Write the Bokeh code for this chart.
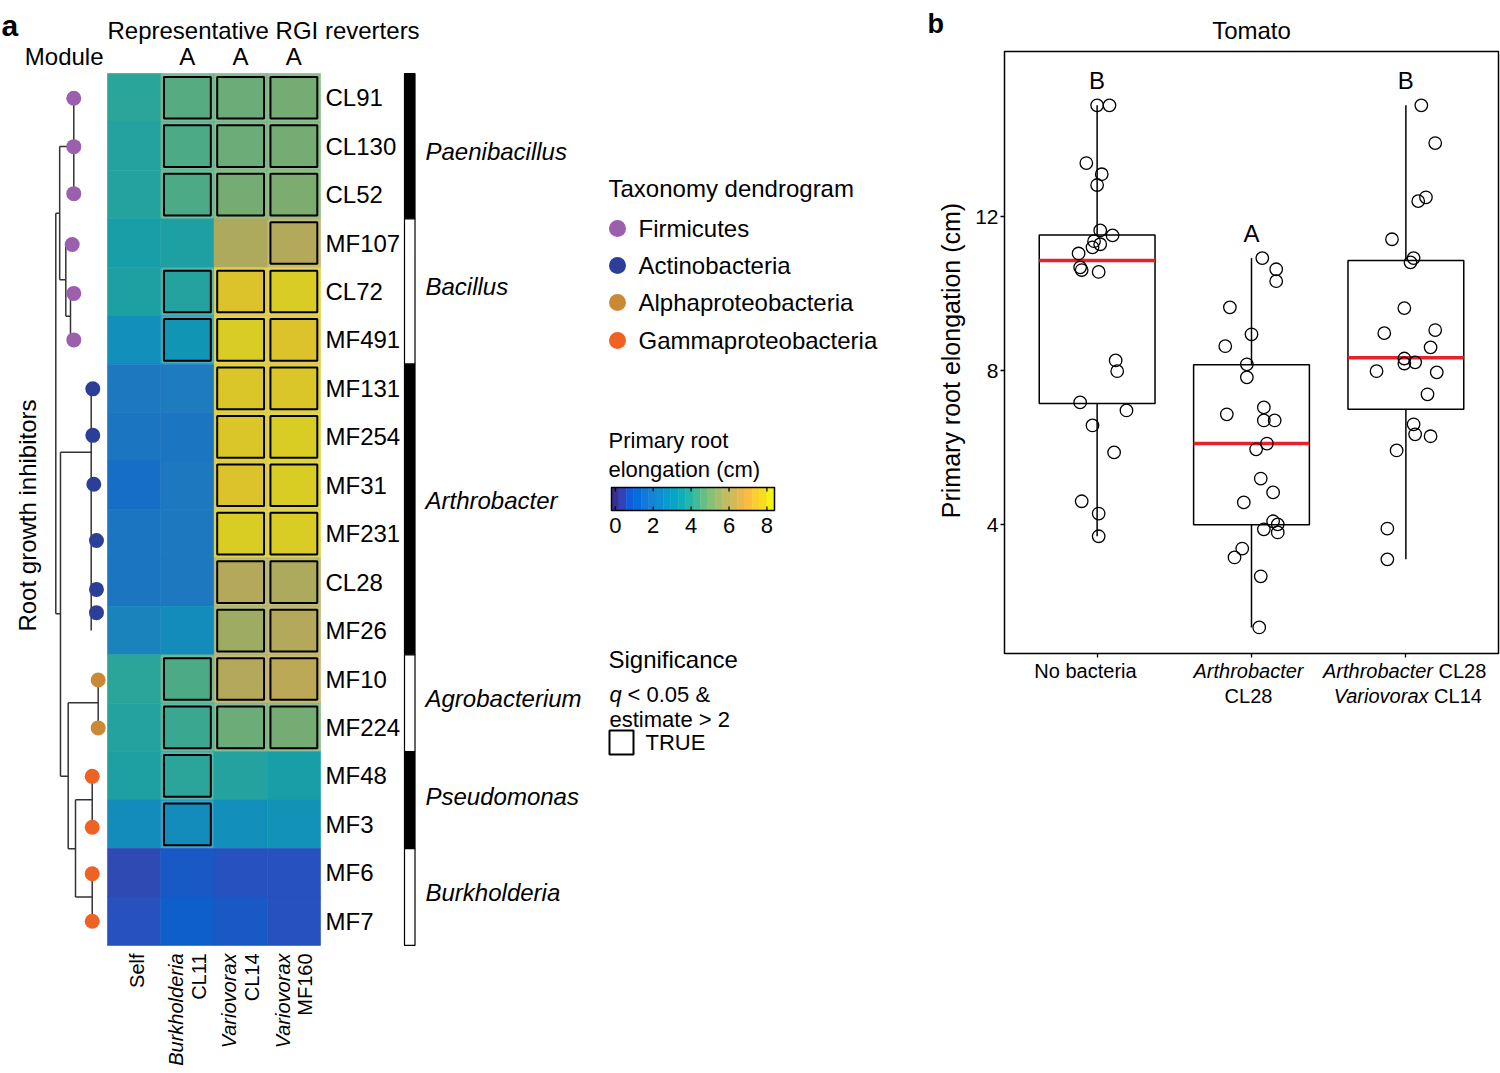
import numpy as np
from bokeh.plotting import figure
from bokeh.models import Range1d, ColumnDataSource, LinearColorMapper, FixedTicker, CategoricalColorMapper
from bokeh.layouts import row
from bokeh.transform import transform
from bokeh.core.properties import value
from bokeh.embed import file_html
from bokeh.resources import INLINE

FONT = "Liberation Sans"

# ------------------------------------------------------------------ data: panel a
strains = ["CL91", "CL130", "CL52", "MF107", "CL72", "MF491", "MF131", "MF254", "MF31",
           "MF231", "CL28", "MF26", "MF10", "MF224", "MF48", "MF3", "MF6", "MF7"]
elong_self = [3.9, 3.8, 3.8, 3.5, 3.6, 2.7, 1.9, 1.7, 1.5, 1.7, 1.7, 2.3, 3.9, 3.8, 3.6, 2.5, 0.6, 0.7]
elong_burk = [4.6, 4.5, 4.4, 3.6, 3.8, 2.9, 2.0, 1.8, 1.9, 1.9, 1.9, 2.5, 4.5, 4.2, 3.9, 2.6, 0.8, 0.9]
elong_v14 = [4.8, 4.9, 5.0, 5.9, 7.6, 7.9, 7.8, 7.8, 7.7, 7.9, 6.0, 5.6, 6.1, 4.9, 3.8, 2.7, 0.7, 0.8]
elong_v160 = [5.0, 5.0, 5.1, 6.0, 7.9, 7.7, 7.8, 7.9, 7.9, 7.9, 5.9, 6.1, 6.2, 5.0, 3.5, 2.8, 0.7, 0.7]
sig_self = [0] * 18
sig_burk = [1, 1, 1, 0, 1, 1, 0, 0, 0, 0, 0, 0, 1, 1, 1, 1, 0, 0]
sig_v14 = [1, 1, 1, 0, 1, 1, 1, 1, 1, 1, 1, 1, 1, 1, 0, 0, 0, 0]
sig_v160 = [1, 1, 1, 1, 1, 1, 1, 1, 1, 1, 1, 1, 1, 1, 0, 0, 0, 0]
col_lines = [["Self"], ["Burkholderia", "CL11"], ["Variovorax", "CL14"], ["Variovorax", "MF160"]]
col_letters = ["", "A", "A", "A"]

genus_names = ["Paenibacillus", "Bacillus", "Arthrobacter", "Agrobacterium", "Pseudomonas", "Burkholderia"]
genus_sizes = [3, 3, 6, 2, 2, 2]
genus_label_shift_px = [5, -5, -9, -5, -4, -4]

phyla = ["Firmicutes", "Actinobacteria", "Alphaproteobacteria", "Gammaproteobacteria"]
phylum_colors = ["#9c5fad", "#2c3f98", "#cc8935", "#ee6224"]
leaf_phylum = ["Firmicutes"] * 6 + ["Actinobacteria"] * 6 + ["Alphaproteobacteria"] * 2 + ["Gammaproteobacteria"] * 4
# taxonomy dendrogram (x: tree distance in heatmap-column units, y: row units)
leaf_x = [-0.633, -0.633, -0.633, -0.663, -0.633, -0.633, -0.276, -0.276, -0.257, -0.207, -0.207, -0.207,
          -0.175, -0.175, -0.287, -0.287, -0.287, -0.287]
leaf_y = [0.51, 1.51, 2.48, 3.53, 4.54, 5.50, 6.51, 7.47, 8.48, 9.64, 10.65, 11.13,
          12.52, 13.51, 14.51, 15.56, 16.52, 17.50]
dend_x0 = [-0.971, -0.971, -0.971, -0.898, -0.898, -0.633, -0.898, -0.783, -0.783, -0.783, -0.695, -0.695, -0.695,
           -0.883, -0.883, -0.306, -0.883, -0.738, -0.738, -0.175, -0.738, -0.601, -0.601, -0.287, -0.601, -0.287,
           -0.306, -0.306, -0.306, -0.306, -0.306, -0.306]
dend_y0 = [2.884, 2.884, 11.154, 1.507, 1.507, 0.51, 4.259, 3.53, 3.53, 5.01, 4.535, 4.535, 5.50,
           7.818, 7.818, 6.51, 14.507, 12.991, 12.991, 12.52, 16.005, 14.993, 14.993, 14.51, 17.0, 16.52,
           6.51, 7.47, 8.48, 9.64, 10.65, 11.13]
dend_x1 = [-0.971, -0.898, -0.883, -0.898, -0.633, -0.633, -0.783, -0.783, -0.663, -0.695, -0.695, -0.633, -0.633,
           -0.883, -0.306, -0.306, -0.738, -0.738, -0.175, -0.175, -0.601, -0.601, -0.287, -0.287, -0.287, -0.287,
           -0.276, -0.276, -0.257, -0.207, -0.207, -0.207]
dend_y1 = [11.154, 2.884, 11.154, 4.259, 1.507, 2.48, 4.259, 5.01, 3.53, 5.01, 5.50, 4.535, 5.50,
           14.507, 7.818, 11.50, 14.507, 16.005, 12.991, 13.51, 16.005, 17.0, 14.993, 15.56, 17.0, 17.50,
           6.51, 7.47, 8.48, 9.64, 10.65, 11.13]

cbar_ticks = [0, 2, 4, 6, 8]

# ------------------------------------------------------------------ data: panel b
groups = ["No bacteria", "Arthrobacter CL28", "Arthrobacter CL28 + Variovorax CL14"]
grp_x = [1, 2, 3]
box_lower = [3.70, 1.33, 3.10]
box_q1 = [7.15, 4.00, 7.00]
box_median = [10.87, 6.11, 8.34]
box_q3 = [11.53, 8.16, 10.87]
box_upper = [14.90, 10.93, 14.90]
letters = ["B", "A", "B"]
y_ticks = [4, 8, 12]

g1_vals = [14.90, 14.90, 13.40, 13.11, 12.83, 11.65, 11.52, 11.37, 11.29, 11.21, 11.05, 10.69, 10.62, 10.57,
           8.27, 7.99, 7.18, 6.97, 6.58, 5.88, 4.61, 4.29, 3.70]
g1_jit = [0.00, 0.08, -0.07, 0.03, 0.00, 0.02, 0.10, -0.02, 0.02, -0.03, -0.12, -0.11, -0.10, 0.01,
          0.12, 0.13, -0.11, 0.19, -0.03, 0.11, -0.10, 0.01, 0.01]
g2_vals = [10.93, 10.64, 10.33, 9.65, 8.95, 8.64, 8.17, 7.83, 7.05, 6.87, 6.71, 6.71, 6.11, 5.96, 5.20,
           4.84, 4.58, 4.09, 4.01, 3.88, 3.80, 3.38, 3.15, 2.66, 1.33]
g2_jit = [0.07, 0.16, 0.16, -0.14, 0.00, -0.17, -0.03, -0.03, 0.08, -0.16, 0.08, 0.15, 0.10, 0.03, 0.06,
          0.14, -0.05, 0.14, 0.17, 0.08, 0.17, -0.06, -0.11, 0.06, 0.05]
g3_vals = [14.90, 13.92, 12.41, 12.51, 11.42, 10.82, 10.93, 9.63, 8.98, 9.06, 8.61, 8.32, 8.19, 8.22,
           7.99, 7.96, 7.39, 6.61, 6.35, 6.30, 5.93, 3.90, 3.10]
g3_jit = [0.10, 0.19, 0.08, 0.13, -0.09, 0.03, 0.05, -0.01, -0.14, 0.19, 0.16, -0.01, -0.01, 0.06,
          -0.19, 0.20, 0.14, 0.05, 0.06, 0.16, -0.06, -0.12, -0.12]

# ------------------------------------------------------------------ palettes (parula)
_parula = [[0.2081, 0.1663, 0.5292], [0.2116, 0.1898, 0.5777], [0.2123, 0.2138, 0.6270], [0.2081, 0.2386, 0.6771],
           [0.1959, 0.2645, 0.7279], [0.1707, 0.2919, 0.7792], [0.1253, 0.3242, 0.8303], [0.0591, 0.3598, 0.8683],
           [0.0117, 0.3875, 0.8820], [0.0060, 0.4086, 0.8828], [0.0165, 0.4266, 0.8786], [0.0329, 0.4430, 0.8720],
           [0.0498, 0.4586, 0.8641], [0.0629, 0.4737, 0.8554], [0.0723, 0.4887, 0.8467], [0.0779, 0.5040, 0.8384],
           [0.0793, 0.5200, 0.8312], [0.0749, 0.5375, 0.8263], [0.0641, 0.5570, 0.8240], [0.0488, 0.5772, 0.8228],
           [0.0343, 0.5966, 0.8199], [0.0265, 0.6137, 0.8135], [0.0239, 0.6287, 0.8038], [0.0231, 0.6418, 0.7913],
           [0.0228, 0.6535, 0.7768], [0.0267, 0.6642, 0.7607], [0.0384, 0.6743, 0.7436], [0.0590, 0.6838, 0.7254],
           [0.0843, 0.6928, 0.7062], [0.1133, 0.7015, 0.6859], [0.1453, 0.7098, 0.6646], [0.1801, 0.7177, 0.6424],
           [0.2178, 0.7250, 0.6193], [0.2586, 0.7317, 0.5954], [0.3022, 0.7376, 0.5712], [0.3482, 0.7424, 0.5473],
           [0.3953, 0.7459, 0.5244], [0.4420, 0.7481, 0.5033], [0.4871, 0.7491, 0.4840], [0.5300, 0.7491, 0.4661],
           [0.5709, 0.7485, 0.4494], [0.6099, 0.7473, 0.4337], [0.6473, 0.7456, 0.4188], [0.6834, 0.7435, 0.4044],
           [0.7184, 0.7411, 0.3905], [0.7525, 0.7384, 0.3768], [0.7858, 0.7356, 0.3633], [0.8185, 0.7327, 0.3498],
           [0.8507, 0.7299, 0.3360], [0.8824, 0.7274, 0.3217], [0.9139, 0.7258, 0.3063], [0.9450, 0.7261, 0.2886],
           [0.9739, 0.7314, 0.2666], [0.9938, 0.7455, 0.2403], [0.9990, 0.7653, 0.2164], [0.9955, 0.7861, 0.1967],
           [0.9880, 0.8066, 0.1794], [0.9789, 0.8271, 0.1633], [0.9697, 0.8481, 0.1475], [0.9626, 0.8705, 0.1309],
           [0.9589, 0.8949, 0.1132], [0.9598, 0.9218, 0.0948], [0.9661, 0.9514, 0.0755], [0.9763, 0.9831, 0.0538]]
PARULA = ["#%02x%02x%02x" % tuple(int(round(c * 255)) for c in rgb) for rgb in _parula]
# muted version used for the heatmap tiles (as printed in the figure)
MUTED = ["#%02x%02x%02x" % tuple(int(round(0.84 * c * 255 + 0.16 * 74)) for c in rgb) for rgb in _parula]
CB_LO, CB_HI = -0.2, 8.4
mapper = LinearColorMapper(palette=PARULA, low=CB_LO, high=CB_HI)
mapper_tiles = LinearColorMapper(palette=MUTED, low=CB_LO, high=CB_HI)

# ------------------------------------------------------------------ panel a geometry (page px -> data units)
COLW, ROWH = 53.25, 48.44
HM_X, HM_Y = 107, 73
WA, H = 886, 1073
BOTTOM_BORDER = 6
FRAME_BOTTOM = H - BOTTOM_BORDER


def ax(px):
    return (px - HM_X) / COLW


def ay(py):
    return (py - HM_Y) / ROWH


pa = figure(width=WA, height=H, x_range=Range1d(ax(0), ax(WA)), y_range=Range1d(ay(FRAME_BOTTOM), ay(0)),
            output_backend="svg", toolbar_location=None, x_axis_location=None, y_axis_location=None,
            min_border_left=0, min_border_right=0, min_border_top=0, min_border_bottom=BOTTOM_BORDER,
            outline_line_color=None)
pa.grid.visible = False
pa.background_fill_color = "white"
pa.border_fill_color = "white"


def txt(p, x, y, t, size, align="left", baseline="middle", style="normal", angle=0.0, color="black"):
    p.text(x=x, y=y, text=t, text_font=value(FONT), text_font_size=value(size), text_align=align,
           text_baseline=baseline, text_font_style=style, angle=angle, text_color=color)


# heatmap cells
cols = [elong_self, elong_burk, elong_v14, elong_v160]
sigs = [sig_self, sig_burk, sig_v14, sig_v160]
hx, hy, hv, ha, sx, sy, sv = [], [], [], [], [], [], []
for j, (vals, sg) in enumerate(zip(cols, sigs)):
    for i, (v, s) in enumerate(zip(vals, sg)):
        hx.append(j + 0.5)
        hy.append(i + 0.5)
        hv.append(v)
        ha.append(0.8 if s else 1.0)
        if s:
            sx.append(j + 0.5)
            sy.append(i + 0.5)
            sv.append(v)
src_h = ColumnDataSource(dict(x=hx, y=hy, v=hv, a=ha))
pa.rect(x="x", y="y", width=1, height=1, source=src_h, fill_color=transform("v", mapper_tiles),
        line_color=transform("v", mapper_tiles), fill_alpha="a", line_alpha="a", line_width=0.6)
src_s = ColumnDataSource(dict(x=sx, y=sy, v=sv))
pa.rect(x="x", y="y", width=0.88, height=0.86, source=src_s, fill_color=transform("v", mapper_tiles),
        line_color="black", line_width=2)

# row labels
txt(pa, [ax(325)] * len(strains), [i + 0.5 for i in range(len(strains))], strains, "24px")

# header
txt(pa, [ax(1)], [ay(25)], ["a"], "30px", baseline="alphabetic", style="bold")
txt(pa, [ax(107)], [ay(30)], ["Representative RGI reverters"], "24px")
txt(pa, [ax(103)], [ay(56)], ["Module"], "24px", align="right")
lx = [j + 0.5 for j, l in enumerate(col_letters) if l]
txt(pa, lx, [ay(56)] * len(lx), [l for l in col_letters if l], "24px", align="center")

# column labels (rotated)
for j, lines in enumerate(col_lines):
    if len(lines) == 1:
        txt(pa, [j + 0.55], [ay(953)], lines, "20px", align="right", angle=np.pi / 2)
    else:
        txt(pa, [j + 0.29], [ay(953)], [lines[0]], "20px", align="right", style="italic", angle=np.pi / 2)
        txt(pa, [j + 0.71], [ay(953)], [lines[1]], "20px", align="right", angle=np.pi / 2)

# genus side bar + labels
starts = np.cumsum([0] + genus_sizes[:-1])
gcent = [float(s + n / 2) for s, n in zip(starts, genus_sizes)]
bar_fill = ["black" if k % 2 == 0 else "white" for k in range(len(genus_names))]
pa.rect(x=[(ax(404) + ax(414.5)) / 2] * len(genus_names), y=gcent,
        width=ax(414.5) - ax(404), height=genus_sizes, fill_color=bar_fill, line_color="black", line_width=1.2)
txt(pa, [ax(425)] * len(genus_names), [c + d / ROWH for c, d in zip(gcent, genus_label_shift_px)],
    genus_names, "24px", style="italic")

# dendrogram
pa.segment(x0=dend_x0, y0=dend_y0, x1=dend_x1, y1=dend_y1, line_color="#333333", line_width=1.5)
pmap = CategoricalColorMapper(factors=phyla, palette=phylum_colors)
src_leaf = ColumnDataSource(dict(x=leaf_x, y=leaf_y, ph=leaf_phylum))
pa.scatter(x="x", y="y", source=src_leaf, size=15, marker="circle", fill_color=transform("ph", pmap),
           line_color=None)
txt(pa, [ax(27)], [ay(515)], ["Root growth inhibitors"], "24px", align="center", angle=np.pi / 2)

# legend: taxonomy
txt(pa, [ax(608)], [ay(188)], ["Taxonomy dendrogram"], "24px")
leg_y = [ay(228), ay(265), ay(302), ay(340)]
pa.scatter(x=[ax(617)] * 4, y=leg_y, size=17, marker="circle", fill_color=phylum_colors, line_color=None)
txt(pa, [ax(638)] * 4, leg_y, phyla, "24px")

# legend: colour bar
txt(pa, [ax(608)], [ay(440)], ["Primary root"], "22px")
txt(pa, [ax(608)], [ay(469)], ["elongation (cm)"], "22px")
cb_x0, cb_x1, cb_y0, cb_y1 = ax(611), ax(774), ay(487), ay(510)


def cbx(v):
    return cb_x0 + (v - CB_LO) / (CB_HI - CB_LO) * (cb_x1 - cb_x0)


nb = 22
edges = np.linspace(CB_LO, CB_HI, nb + 1)
mids = (edges[:-1] + edges[1:]) / 2
src_cb = ColumnDataSource(dict(x=[cbx(m) for m in mids], v=list(mids)))
pa.rect(x="x", y=(cb_y0 + cb_y1) / 2, width=(cb_x1 - cb_x0) / nb, height=cb_y1 - cb_y0, source=src_cb,
        fill_color=transform("v", mapper), line_color=transform("v", mapper), line_width=0.5)
tk = [cbx(t) for t in cbar_ticks]
pa.segment(x0=tk, y0=[cb_y0] * 5, x1=tk, y1=[ay(491)] * 5, line_color="black", line_width=1.2)
pa.segment(x0=tk, y0=[ay(506)] * 5, x1=tk, y1=[cb_y1] * 5, line_color="black", line_width=1.2)
pa.rect(x=(cb_x0 + cb_x1) / 2, y=(cb_y0 + cb_y1) / 2, width=cb_x1 - cb_x0, height=cb_y1 - cb_y0,
        fill_color=None, line_color="black", line_width=1.5)
txt(pa, tk, [ay(525)] * 5, [str(t) for t in cbar_ticks], "22px", align="center")

# legend: significance
txt(pa, [ax(608)], [ay(659)], ["Significance"], "24px")
txt(pa, [ax(609)], [ay(694)], ["q"], "22px", style="italic")
txt(pa, [ax(627)], [ay(694)], ["< 0.05 &"], "22px")
txt(pa, [ax(609)], [ay(719)], ["estimate > 2"], "22px")
pa.rect(x=ax(621), y=ay(742), width=24 / COLW, height=24 / ROWH, fill_color=None, line_color="black",
        line_width=2)
txt(pa, [ax(645)], [ay(742)], ["TRUE"], "22px")

# ------------------------------------------------------------------ panel b
WB = 1500 - WA
LEFT_BORDER = 38
BFR_L = WA + LEFT_BORDER              # page x where panel b's canvas frame starts
BOX_L, BOX_R, BOX_T, BOX_B = 1004, 1498, 51, 653   # plotting box in page px
XB0, XB1 = 0.4, 3.6
YB0, YB1 = 0.653, 16.30
pxu = (BOX_R - BOX_L) / (XB1 - XB0)
pyu = (BOX_B - BOX_T) / (YB1 - YB0)


def bx(px):
    return XB0 + (px - BOX_L) / pxu


def by(py):
    return YB1 - (py - BOX_T) / pyu


pb = figure(width=WB, height=H, x_range=Range1d(bx(BFR_L), bx(1500)), y_range=Range1d(by(FRAME_BOTTOM), by(0)),
            output_backend="svg", toolbar_location=None,
            min_border_left=LEFT_BORDER, min_border_right=0, min_border_top=0, min_border_bottom=BOTTOM_BORDER)
pb.grid.visible = False
pb.outline_line_color = None
pb.background_fill_color = "white"
pb.border_fill_color = "white"

pb.xaxis.ticker = FixedTicker(ticks=grp_x)
pb.xaxis.major_label_overrides = {g: "" for g in grp_x}
pb.xaxis.major_label_text_font_size = "0px"
pb.xaxis.major_label_standoff = 0
pb.xaxis.fixed_location = YB0
pb.yaxis.ticker = FixedTicker(ticks=y_ticks)
pb.yaxis.fixed_location = XB0
for axis in (pb.xaxis, pb.yaxis):
    axis.axis_line_color = None
    axis.major_tick_in = 0
    axis.major_tick_out = 4
    axis.minor_tick_line_color = None
    axis.major_tick_line_color = "black"
    axis.major_tick_line_width = 1.3
pb.yaxis.major_label_text_font = FONT
pb.yaxis.major_label_text_font_size = "21px"
pb.yaxis.major_label_text_color = "black"
pb.yaxis.major_label_standoff = 2

# plotting box
pb.quad(left=[XB0], right=[XB1], bottom=[YB0], top=[YB1], fill_color=None, line_color="black", line_width=1.5)

pb.vbar(x=grp_x, width=0.75, bottom=box_q1, top=box_q3, fill_color="white", line_color="black", line_width=1.5)
pb.segment(x0=grp_x, y0=box_q3, x1=grp_x, y1=box_upper, line_color="black", line_width=1.5)
pb.segment(x0=grp_x, y0=box_q1, x1=grp_x, y1=box_lower, line_color="black", line_width=1.5)
pb.segment(x0=[g - 0.375 for g in grp_x], y0=box_median, x1=[g + 0.375 for g in grp_x], y1=box_median,
           line_color="#e8202a", line_width=3.5)
px_all = [1 + j for j in g1_jit] + [2 + j for j in g2_jit] + [3 + j for j in g3_jit]
py_all = g1_vals + g2_vals + g3_vals
pb.scatter(x=px_all, y=py_all, size=12.5, marker="circle", fill_color=None, line_color="black", line_width=1.3)
txt(pb, grp_x, [u + 0.65 for u in box_upper], letters, "24px", align="center")

# texts of panel b
txt(pb, [bx(927)], [by(23)], ["b"], "27px", baseline="alphabetic", style="bold")
txt(pb, [bx(1251)], [by(30)], ["Tomato"], "24px", align="center")
txt(pb, [bx(950)], [by(360)], ["Primary root elongation (cm)"], "25px", align="center", angle=np.pi / 2)
txt(pb, [bx(1085)], [by(670)], ["No bacteria"], "20px", align="center")
txt(pb, [bx(1248)], [by(670)], ["Arthrobacter"], "20px", align="center", style="italic")
txt(pb, [bx(1248)], [by(695)], ["CL28"], "20px", align="center")
txt(pb, [bx(1432.5)], [by(670)], ["Arthrobacter"], "20px", align="right", style="italic")
txt(pb, [bx(1438)], [by(670)], ["CL28"], "20px", align="left")
txt(pb, [bx(1428)], [by(695)], ["Variovorax"], "20px", align="right", style="italic")
txt(pb, [bx(1433.6)], [by(695)], ["CL14"], "20px", align="left")

layout = row(pa, pb)
open("out.html", "w").write(file_html(layout, INLINE))
